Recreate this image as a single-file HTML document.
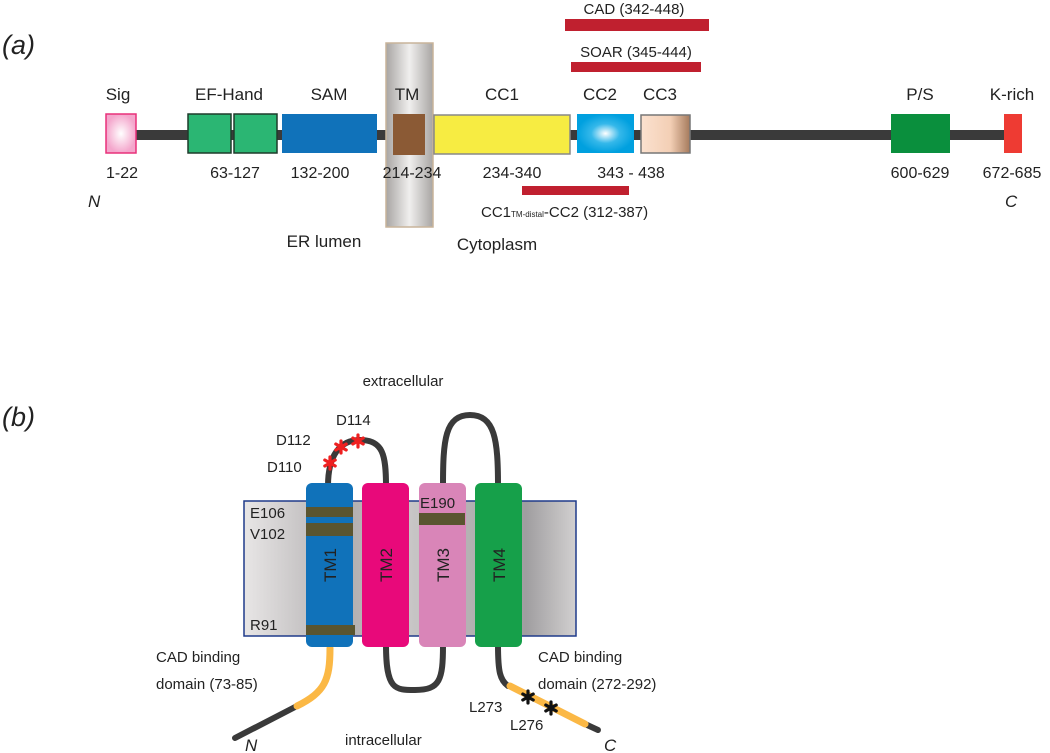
<!DOCTYPE html>
<html><head><meta charset="utf-8"><style>
html,body{margin:0;padding:0;background:#fff}
svg{display:block}
text{font-family:"Liberation Sans",sans-serif;fill:#222}
</style></head><body>
<svg width="1050" height="753" viewBox="0 0 1050 753" xmlns="http://www.w3.org/2000/svg">
<defs>
<radialGradient id="pk"><stop offset="0" stop-color="#fff"/><stop offset="1" stop-color="#f4a6cc"/></radialGradient>
<radialGradient id="bl" cx="0.5" cy="0.5" r="0.5"><stop offset="0" stop-color="#fff"/><stop offset="0.5" stop-color="#35b8ea"/><stop offset="1" stop-color="#00a0df"/></radialGradient>
<linearGradient id="pe"><stop offset="0" stop-color="#fbe1cf"/><stop offset="0.6" stop-color="#f3cfb5"/><stop offset="1" stop-color="#a57a5c"/></linearGradient>
<linearGradient id="tm"><stop offset="0" stop-color="#a8a5a3"/><stop offset="0.5" stop-color="#f0efee"/><stop offset="1" stop-color="#a8a5a3"/></linearGradient>
<linearGradient id="mem"><stop offset="0" stop-color="#e8e6e6"/><stop offset="0.3" stop-color="#b0adae"/><stop offset="0.5" stop-color="#c8c6c6"/><stop offset="0.85" stop-color="#a09ea0"/><stop offset="1" stop-color="#d2d0d0"/></linearGradient>
<g id="ast"><path d="M0 -6V6M-5.2 -3L5.2 3M-5.2 3L5.2 -3" stroke-width="3.2" stroke-linecap="round"/></g>
</defs>

<!-- (a) -->
<text x="2" y="54" font-size="27" font-style="italic">(a)</text>
<text x="634" y="14" font-size="15" text-anchor="middle">CAD (342-448)</text>
<rect x="565" y="19" width="144" height="12" fill="#c0202f"/>
<text x="636" y="57" font-size="15" text-anchor="middle">SOAR (345-444)</text>
<rect x="571" y="62" width="130" height="10" fill="#c0202f"/>

<rect x="136" y="130" width="870" height="10" fill="#3a3a3a"/>
<rect x="386" y="43" width="47" height="184" fill="url(#tm)" stroke="#c8b49a" stroke-width="1.5"/>
<rect x="106" y="114" width="30" height="39" fill="url(#pk)" stroke="#e8307a" stroke-width="1.5"/>
<rect x="188" y="114" width="43" height="39" fill="#2bb673" stroke="#1e3b2b" stroke-width="1.5"/>
<rect x="234" y="114" width="43" height="39" fill="#2bb673" stroke="#1e3b2b" stroke-width="1.5"/>
<rect x="282" y="114" width="95" height="39" fill="#1072ba"/>
<rect x="393" y="114" width="32" height="41" fill="#8b5a35"/>
<rect x="434" y="115" width="136" height="39" fill="#f7ec42" stroke="#888" stroke-width="1.5"/>
<rect x="577" y="114" width="57" height="39" fill="url(#bl)"/>
<rect x="641" y="115" width="49" height="38" fill="url(#pe)" stroke="#777" stroke-width="1.5"/>
<rect x="891" y="114" width="59" height="39" fill="#0a8f3d"/>
<rect x="1004" y="114" width="18" height="39" fill="#ee3b33"/>

<g font-size="17" text-anchor="middle">
<text x="118" y="100">Sig</text>
<text x="229" y="100">EF-Hand</text>
<text x="329" y="100">SAM</text>
<text x="407" y="100">TM</text>
<text x="502" y="100">CC1</text>
<text x="600" y="100">CC2</text>
<text x="660" y="100">CC3</text>
<text x="920" y="100">P/S</text>
<text x="1012" y="100">K-rich</text>
</g>
<g font-size="16" text-anchor="middle">
<text x="122" y="178">1-22</text>
<text x="235" y="178">63-127</text>
<text x="320" y="178">132-200</text>
<text x="412" y="178">214-234</text>
<text x="512" y="178">234-340</text>
<text x="631" y="178">343 - 438</text>
<text x="920" y="178">600-629</text>
<text x="1012" y="178">672-685</text>
</g>
<rect x="522" y="186" width="107" height="9" fill="#c0202f"/>
<text x="481" y="217" font-size="15">CC1<tspan font-size="8">TM-distal</tspan>-CC2 (312-387)</text>
<text x="88" y="207" font-size="17" font-style="italic">N</text>
<text x="1005" y="207" font-size="17" font-style="italic">C</text>
<text x="324" y="247" font-size="17" text-anchor="middle">ER lumen</text>
<text x="497" y="250" font-size="17" text-anchor="middle">Cytoplasm</text>

<!-- (b) -->
<text x="2" y="426" font-size="27" font-style="italic">(b)</text>
<text x="403" y="386" font-size="15" text-anchor="middle">extracellular</text>

<rect x="244" y="501" width="332" height="135" fill="url(#mem)" stroke="#1f3a8a" stroke-width="1.5"/>

<g fill="none" stroke="#3a3a3a" stroke-width="6" stroke-linecap="round">
<path d="M328 486 C328 455 340 440 360 440 C383 440 386 455 386 486"/>
<path d="M443 486 C443 440 445 415 470 415 C495 415 498 440 498 486"/>
<path d="M386 645 C386 690 395 690 415 690 C440 690 443 680 443 645"/>
<path d="M297 706 L235 738"/>
<path d="M498 645 C498 672 500 680 508 686"/>
<path d="M585 724 L598 730"/>
</g>
<g fill="none" stroke="#fbb845" stroke-width="7" stroke-linecap="round">
<path d="M330 648 C330 680 325 692 297 706"/>
<path d="M510 686 L585 724"/>
</g>

<rect x="306" y="483" width="47" height="164" rx="6" fill="#1072ba"/>
<rect x="362" y="483" width="47" height="164" rx="6" fill="#e8097a"/>
<rect x="419" y="483" width="47" height="164" rx="6" fill="#d985b8"/>
<rect x="475" y="483" width="47" height="164" rx="6" fill="#16a04a"/>
<rect x="306" y="507" width="47" height="10" fill="#5a5530"/>
<rect x="306" y="523" width="47" height="13" fill="#5a5530"/>
<rect x="306" y="625" width="49" height="10" fill="#5a5530"/>
<rect x="419" y="513" width="46" height="12" fill="#5a5530"/>

<g font-size="17" text-anchor="middle">
<text transform="translate(336 565) rotate(-90)">TM1</text>
<text transform="translate(392 565) rotate(-90)">TM2</text>
<text transform="translate(449 565) rotate(-90)">TM3</text>
<text transform="translate(505 565) rotate(-90)">TM4</text>
</g>
<g font-size="15">
<text x="250" y="518">E106</text>
<text x="250" y="539">V102</text>
<text x="250" y="630">R91</text>
<text x="420" y="508">E190</text>
<text x="336" y="425">D114</text>
<text x="276" y="445">D112</text>
<text x="267" y="472">D110</text>
<text x="156" y="662">CAD binding</text>
<text x="156" y="689">domain (73-85)</text>
<text x="538" y="662">CAD binding</text>
<text x="538" y="689">domain (272-292)</text>
<text x="469" y="712">L273</text>
<text x="510" y="730">L276</text>
<text x="345" y="745">intracellular</text>
</g>
<text x="245" y="751" font-size="17" font-style="italic">N</text>
<text x="604" y="751" font-size="17" font-style="italic">C</text>
<g stroke="#ee2020">
<use href="#ast" x="330" y="463"/>
<use href="#ast" x="341" y="447"/>
<use href="#ast" x="358" y="441"/>
</g>
<g stroke="#111">
<use href="#ast" x="528" y="697"/>
<use href="#ast" x="551" y="708"/>
</g>
</svg>
</body></html>
